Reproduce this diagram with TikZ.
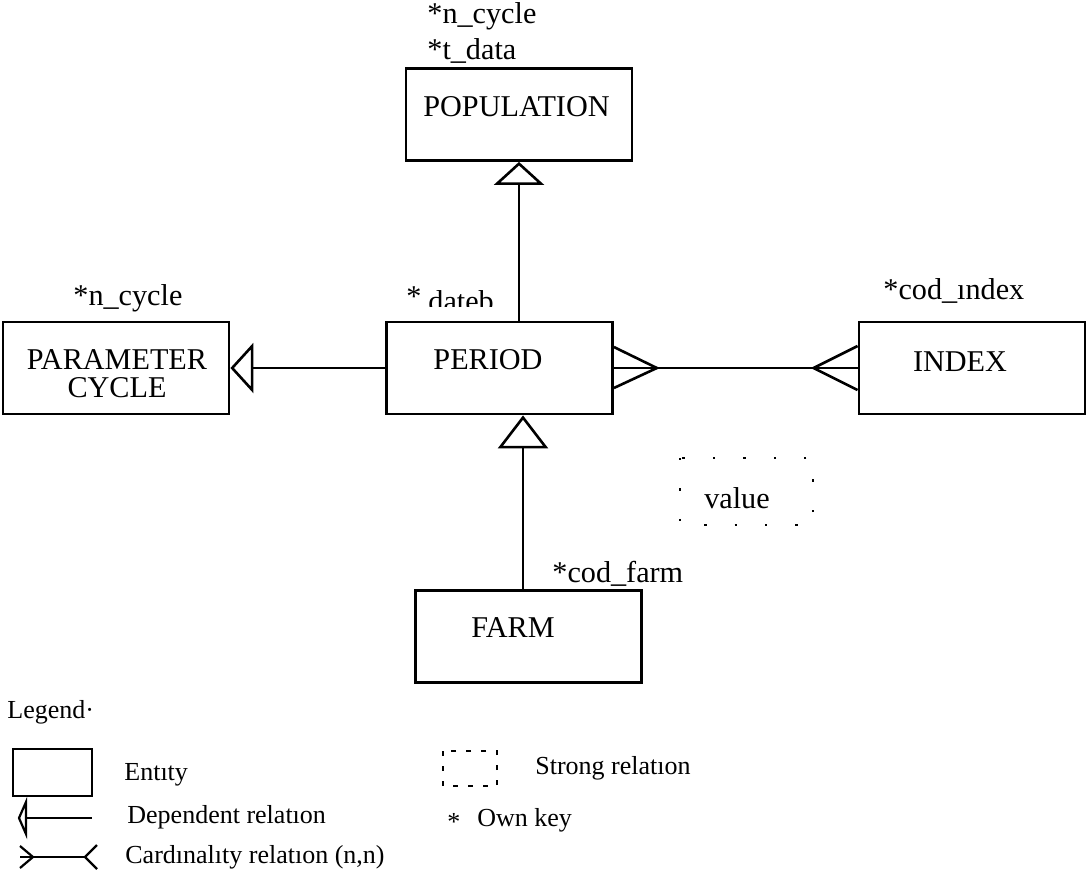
\documentclass[tikz,border=0pt]{standalone}
\usepackage{fontspec}
\setmainfont{Liberation Serif}
\usetikzlibrary{arrows.meta,calc}
\newcommand\mainfs{\fontsize{15.1}{17}\selectfont}
\newcommand\legfs{\fontsize{13}{15}\selectfont}
\begin{document}
\begin{tikzpicture}[x=0.5pt,y=-0.5pt,
  every node/.style={font=\mainfs, inner sep=0pt},
  entity/.style={draw, line width=1.4pt, minimum width=113pt, minimum height=46pt, inner sep=0pt},
  rel/.style={line width=1.3pt, line join=miter},
  dep/.style={line width=1.3pt, -{Triangle[open, length=11.5pt, width=25pt]}},
  depbig/.style={line width=1.3pt, -{Triangle[open, length=16.5pt, width=25pt]}},
  strong/.style={line width=0.9pt, dash pattern=on 1.2pt off 14pt},
  legbox/.style={line width=1.2pt},
  legline/.style={line width=1.1pt},
  legstrong/.style={line width=1pt, dash pattern=on 2.5pt off 5pt},
  legtext/.style={font=\legfs, anchor=west}
]
\useasboundingbox (0,0) rectangle (1087,874);

% entities
\node[entity] (population) at (519,114.5) {};
\node[entity] (param) at (116,368) {};
\node[entity] (period) at (499.5,368) {};
\node[entity] (index) at (972,368) {};
\node[entity] (farm) at (528.5,636.5) {};

\node (populationtxt) at (516.5,107) {POPULATION};
\node[align=center, font=\fontsize{15.1}{14}\selectfont] (paramtxt) at (117,374) {PARAMETER\\CYCLE};
\node (periodtxt) at (488,360) {PERIOD};
\node (indextxt) at (960,362) {INDEX};
\node (farmtxt) at (513,628) {FARM};

% dependent relations
\coordinate (pertop) at ($(period.north)+(19.5,0)$);
\draw[dep] (pertop) -- (population.south);
\draw[dep] (period.west) -- (param.east);
\coordinate (farmtop) at ($(farm.north)+(-5.5,0)$);
\draw[depbig] (farmtop) -- (farmtop |- period.south);

% cardinality relation (n,n)
\coordinate (cfp) at ($(period.east)+(43,0)$);
\coordinate (cfi) at ($(index.west)+(-44,0)$);
\draw[rel] (cfp) -- (cfi);
\draw[rel] ($(period.east)+(0,-21)$) -- (cfp) -- ($(period.east)+(0,20)$);
\draw[rel] (period.east) -- (cfp);
\draw[rel] ($(index.west)+(0,-22)$) -- (cfi) -- ($(index.west)+(0,22)$);
\draw[rel] (index.west) -- (cfi);

% keys
\node[anchor=west] (popkey1) at (427,16) {*n\_cycle};
\node[anchor=west] (popkey2) at (427,51) {*t\_data};
\node[anchor=west] (paramkey) at (73,298) {*n\_cycle};
\node[anchor=west] (indexkey) at (883,291) {*cod\_ındex};
\node[anchor=west] (farmkey) at (552,574) {*cod\_farm};
\begin{scope}
  \clip (395,265) rectangle (505,306);
  \node[anchor=base] (datebstar) at (414,306) {*};
  \node[anchor=base west] (dateb) at (428,311) {dateb};
\end{scope}

% strong relation
\draw[strong] (680,458) rectangle (813,525);
\node (value) at (737,498) {value};

% legend
\node[legtext] (legendtitle) at (7,712) {Legend·};
\draw[legbox] (13,749) rectangle (92,796);
\node[legtext] (lentity) at (124,775) {Entıty};
\draw[legline] (25,818) -- (92,818);
\draw[legline] (26,802) -- (19,818) -- (26,834) -- cycle;
\node[legtext] (ldep) at (127,817) {Dependent relatıon};
\draw[legline] (20,857) -- (85,857);
\draw[legline] (20,846) -- (33,857) -- (20,868);
\draw[legline] (97,845) -- (85,857) -- (97,869);
\node[legtext] (lcard) at (125,857) {Cardınalıty relatıon (n,n)};
\draw[legstrong] (443,751) rectangle (497,786);
\node[legtext] (lstrong) at (535,768) {Strong relatıon};
\node[legtext] (lkeystar) at (447,822) {\raisebox{-0.3em}{*}};
\node[legtext] (lkey) at (477,820) {Own key};
\end{tikzpicture}
\end{document}
